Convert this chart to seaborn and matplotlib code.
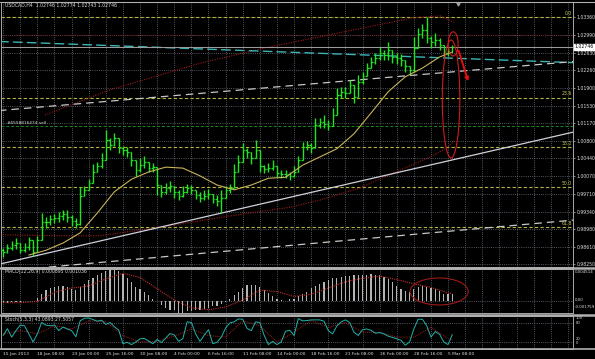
import numpy as np
import pandas as pd
import matplotlib
matplotlib.use("Agg")
import matplotlib.pyplot as plt
from matplotlib.lines import Line2D
from matplotlib.patches import Ellipse, FancyArrowPatch
import seaborn as sns

# ---------------- data ----------------
title_text = "USDCAD,H4  1.02746 1.02774 1.02743 1.02746"
macd_text = "MACD(12,26,9) 0.000895 0.001036"
stoch_text = "Stoch(5,3,3) 43.0893 27.5057"
order_text = "#6558816474 sell"

first_open = 0.9854
closes = [0.9850, 0.9859, 0.9865, 0.9869, 0.9854, 0.9861, 0.9875, 0.9850, 0.9875, 0.9912,
          0.9912, 0.9919, 0.9921, 0.9925, 0.9929, 0.9923, 0.9915, 0.9908, 0.9966, 0.9979,
          0.9993, 1.0016, 1.0028, 1.0041, 1.0082, 1.0072, 1.0086, 1.0066, 1.0062, 1.0057,
          1.0041, 1.0020, 1.0030, 1.0036, 1.0024, 1.0026, 0.9989, 0.9975, 0.9983, 0.9987,
          0.9975, 0.9966, 0.9975, 0.9983, 0.9979, 0.9968, 0.9962, 0.9966, 0.9970, 0.9960,
          0.9956, 0.9962, 0.9979, 0.9983, 1.0016, 1.0036, 1.0062, 1.0057, 1.0045, 1.0062,
          1.0028, 1.0022, 1.0024, 1.0028, 1.0014, 1.0012, 1.0012, 1.0008, 1.0016, 1.0041,
          1.0068, 1.0072, 1.0066, 1.0113, 1.0119, 1.0115, 1.0111, 1.0134, 1.0175, 1.0181,
          1.0179, 1.0196, 1.0171, 1.0202, 1.0215, 1.0231, 1.0244, 1.0252, 1.0262, 1.0258,
          1.0268, 1.0254, 1.0252, 1.0248, 1.0235, 1.0227, 1.0272, 1.0301, 1.0310, 1.0293,
          1.0285, 1.0289, 1.0279, 1.0262, 1.0264, 1.0275]
highs = [0.9859, 0.9867, 0.9873, 0.9879, 0.9865, 0.9869, 0.9881, 0.9859, 0.9883, 0.9931,
         0.9923, 0.9927, 0.9929, 0.9933, 0.9937, 0.9937, 0.9927, 0.9921, 0.9985, 0.9987,
         1.0001, 1.0032, 1.0036, 1.0055, 1.0103, 1.0086, 1.0097, 1.0078, 1.0070, 1.0068,
         1.0053, 1.0041, 1.0045, 1.0049, 1.0034, 1.0034, 1.0020, 0.9987, 0.9993, 0.9997,
         0.9985, 0.9979, 0.9987, 0.9991, 0.9989, 0.9979, 0.9975, 0.9979, 0.9981, 0.9970,
         0.9968, 0.9979, 0.9987, 0.9991, 1.0032, 1.0051, 1.0076, 1.0066, 1.0055, 1.0082,
         1.0051, 1.0030, 1.0034, 1.0041, 1.0024, 1.0020, 1.0020, 1.0016, 1.0028, 1.0049,
         1.0078, 1.0080, 1.0076, 1.0128, 1.0128, 1.0134, 1.0124, 1.0148, 1.0190, 1.0192,
         1.0192, 1.0206, 1.0190, 1.0217, 1.0223, 1.0241, 1.0254, 1.0262, 1.0275, 1.0268,
         1.0285, 1.0262, 1.0262, 1.0260, 1.0248, 1.0235, 1.0295, 1.0314, 1.0322, 1.0337,
         1.0297, 1.0304, 1.0293, 1.0275, 1.0272, 1.0279]
lows = [0.9840, 0.9848, 0.9854, 0.9856, 0.9848, 0.9850, 0.9854, 0.9842, 0.9850, 0.9879,
        0.9900, 0.9906, 0.9910, 0.9912, 0.9917, 0.9912, 0.9904, 0.9900, 0.9906, 0.9966,
        0.9981, 0.9999, 1.0016, 1.0024, 1.0041, 1.0062, 1.0070, 1.0055, 1.0051, 1.0047,
        1.0028, 1.0008, 1.0016, 1.0024, 1.0016, 1.0016, 0.9968, 0.9964, 0.9970, 0.9975,
        0.9962, 0.9958, 0.9964, 0.9972, 0.9970, 0.9960, 0.9954, 0.9958, 0.9960, 0.9952,
        0.9946, 0.9931, 0.9970, 0.9972, 0.9999, 1.0024, 1.0047, 1.0045, 1.0032, 1.0045,
        1.0016, 1.0014, 1.0016, 1.0020, 1.0005, 1.0003, 1.0003, 0.9999, 1.0005, 1.0024,
        1.0057, 1.0062, 1.0055, 1.0099, 1.0107, 1.0107, 1.0103, 1.0119, 1.0161, 1.0169,
        1.0169, 1.0186, 1.0159, 1.0186, 1.0198, 1.0217, 1.0233, 1.0239, 1.0248, 1.0248,
        1.0248, 1.0241, 1.0239, 1.0235, 1.0223, 1.0217, 1.0223, 1.0289, 1.0293, 1.0283,
        1.0272, 1.0277, 1.0268, 1.0254, 1.0256, 1.0266]

# moving average, read every 4th bar (plus the last bar)
ma_values = [0.9844, 0.9854, 0.9869, 0.9890, 0.9931, 0.9975, 1.0001, 1.0016, 1.0026, 1.0024,
             1.0008, 0.9989, 0.9979, 0.9989, 1.0003, 1.0005, 1.0030, 1.0047, 1.0064, 1.0095,
             1.0138, 1.0182, 1.0213, 1.0231, 1.0254, 1.0264]

macd_hist = [-0.0003, -0.0003, -0.0002, -0.0002, -0.0002, -0.0001, -0.0001, 0.0000, 0.0004, 0.0010,
             0.0015, 0.0018, 0.0020, 0.0021, 0.0021, 0.0019, 0.0017, 0.0015, 0.0019, 0.0024,
             0.0029, 0.0033, 0.0037, 0.0040, 0.0043, 0.0045, 0.0044, 0.0042, 0.0038, 0.0033,
             0.0027, 0.0020, 0.0016, 0.0012, 0.0008, 0.0003, -0.0001, -0.0006, -0.0010, -0.0013,
             -0.0014, -0.0017, -0.0017, -0.0015, -0.0015, -0.0014, -0.0013, -0.0012, -0.0010, -0.0008,
             -0.0007, -0.0005, -0.0002, 0.0002, 0.0008, 0.0013, 0.0018, 0.0022, 0.0023, 0.0022,
             0.0019, 0.0015, 0.0011, 0.0007, 0.0003, 0.0001, 0.0000, 0.0002, 0.0003, 0.0006,
             0.0010, 0.0012, 0.0018, 0.0021, 0.0024, 0.0027, 0.0030, 0.0032, 0.0033, 0.0034,
             0.0035, 0.0035, 0.0036, 0.0036, 0.0037, 0.0037, 0.0038, 0.0037, 0.0036, 0.0034,
             0.0031, 0.0027, 0.0021, 0.0017, 0.0014, 0.0013, 0.0017, 0.0020, 0.0021, 0.0020,
             0.0018, 0.0017, 0.0014, 0.0010, 0.0009, 0.0009]
# signal lines, read every 4th bar (plus the last bar)
macd_signal = [-0.0003, -0.0003, -0.0001, 0.0012, 0.0018, 0.0021, 0.0031, 0.0039, 0.0033, 0.0017,
               0.0001, -0.0010, -0.0013, -0.0009, 0.0001, 0.0015, 0.0013, 0.0006, 0.0009, 0.0018,
               0.0027, 0.0032, 0.0035, 0.0030, 0.0024, 0.0019, 0.0011, 0.0010]

stoch_main = [40, 61, 35, 55, 72, 70, 45, 20, 45, 80,
              72, 70, 72, 55, 66, 60, 55, 36, 85, 93,
              94, 89, 84, 87, 74, 80, 67, 57, 15, 19,
              12, 20, 30, 31, 23, 15, 28, 18, 32, 46,
              42, 22, 30, 82, 80, 45, 22, 41, 58, 15,
              19, 35, 63, 79, 82, 91, 90, 62, 55, 82,
              80, 41, 12, 22, 12, 20, 53, 56, 40, 92,
              85, 86, 88, 88, 88, 84, 55, 45, 69, 82,
              88, 80, 50, 40, 58, 60, 56, 47, 49, 45,
              38, 34, 30, 25, 10, 20, 60, 90, 90, 70,
              35, 52, 44, 20, 12, 43.09]
stoch_signal = [45, 55, 45, 70, 60, 85, 82, 40, 20, 22, 38, 60, 40, 35, 85, 70, 20, 50, 86, 65,
                80, 50, 50, 35, 35, 65, 30, 27.5]

date_labels = ["15 Jan 2013", "18 Jan 08:00", "23 Jan 00:00", "25 Jan 16:00", "30 Jan 08:00",
               "4 Feb 00:00", "6 Feb 16:00", "11 Feb 08:00", "14 Feb 00:00", "18 Feb 16:00",
               "21 Feb 08:00", "26 Feb 00:00", "28 Feb 16:00", "5 Mar 08:00"]
price_labels = [1.03360, 1.02990, 1.02630, 1.02260, 1.01900, 1.01530, 1.01170, 1.00800,
                1.00440, 1.00070, 0.99710, 0.99340, 0.98980, 0.98610, 0.98250]
macd_range = (-0.001759, 0.004514)
macd_labels = ["0.004514", "0.00", "-0.001759"]
stoch_labels = ["100", "80", "20", "0"]
stoch_levels = [20, 80]

fib_high = 1.0336
fib_low = 0.9633
fib_ratios = [0.0, 23.6, 38.2, 50.0, 61.8]

bid_price = 1.02746
order_price = 1.0111
stop_price = 1.0299

trend_span = [-1, 134]
trend_teal = [1.0286, 1.0242]
channel_upper = [1.0143, 1.0245]
channel_lower = [0.9810, 0.9917]
support_line = [0.9825, 1.0100]

ellipse_top_idx = [9.8, 25.0, 46.0, 62.4, 76.4, 95.8, 102.1, 105.4]
ellipse_top_price = [1.0134, 1.0186, 1.0241, 1.0275, 1.0300, 1.0335, 1.0339, 1.0326]
ellipse_bot_idx = [-0.7, 13.3, 22.6, 38.3, 53.0, 67.1, 74.1, 83.4, 92.8, 99.8, 103.8, 105.6]
ellipse_bot_price = [0.9886, 0.9884, 0.9884, 0.9904, 0.9925, 0.9943, 0.9958, 0.9983, 1.0020,
                     1.0047, 1.0066, 1.0082]

# ---------------- style ----------------
sns.set_theme(style="dark", rc={"axes.facecolor": "black", "figure.facecolor": "black",
                                "axes.edgecolor": "#a0a0a0", "text.color": "#d8d8d8"})
plt.rcParams['font.family'] = ['DejaVu Sans']

W, H = 595, 359
FS = 3.3
GREEN = "#1ee61e"
GRIDC = "#6a7280"
GRIDLS = (0, (1, 1.6))
LBL = "#dcdcdc"


def box(x0, y0, x1, y1):
    return [x0 / W, 1 - y1 / H, (x1 - x0) / W, (y1 - y0) / H]


fig = plt.figure(figsize=(W / 100, H / 100), dpi=100, facecolor="black")
ax = fig.add_axes(box(1, 2, 573, 266.5))
axm = fig.add_axes(box(1, 269, 573, 313))
axs = fig.add_axes(box(1, 316, 573, 348.5))

XL = (-0.5, 133.2)
grid_pos = np.arange(0, 134, 4)
n = len(closes)
idx = np.arange(n)
sig_idx = list(range(0, n, 4)) + [n - 1]
ma_idx = list(range(6, n, 4)) + [n - 1]

for a in (ax, axm, axs):
    a.set_facecolor("black")
    a.set_xlim(*XL)
    for s in a.spines.values():
        s.set_color("#a8a8a8")
        s.set_linewidth(0.7)
    a.grid(False)

# ---------------- main panel ----------------
ax.set_ylim(0.98204, 1.03677)
ax.set_xticks(grid_pos)
ax.tick_params(axis="x", length=0, labelbottom=False)
ax.yaxis.tick_right()
ax.set_yticks(price_labels)
ax.set_yticklabels([f"{p:.5f}" for p in price_labels])
ax.tick_params(axis="y", length=1.5, width=0.5, color="#c0c0c0", pad=1,
               labelsize=FS, labelcolor=LBL)
ax.grid(True, axis="both", color=GRIDC, linestyle=GRIDLS, linewidth=0.6)

# fibonacci levels
for r in fib_ratios:
    lvl = fib_high - r / 100.0 * (fib_high - fib_low)
    ax.axhline(lvl, color="#b4b43c", lw=0.8, dashes=(3, 2), zorder=2)
    ax.text(132.9, lvl + 0.0003, f"{r:.1f}", color="#c8c850", fontsize=FS,
            ha="right", va="bottom", zorder=6)

# order & stop lines
ax.axhline(order_price, color="#1a8a1a", lw=0.7, dashes=(3, 2), zorder=2)
ax.text(1.0, order_price + 0.0003, order_text, color=LBL, fontsize=FS - 0.2,
        ha="left", va="bottom", zorder=6)
ax.axhline(stop_price, color="#7a1010", lw=0.6, linestyle=(0, (1, 1.5)), zorder=2)

# big drawn ellipse (dark red dotted)
ax.plot(ellipse_top_idx, ellipse_top_price, color="#9b1c1c", lw=0.8,
        linestyle=(0, (1, 1.2)), zorder=3)
ax.plot(ellipse_bot_idx, ellipse_bot_price, color="#9b1c1c", lw=0.8,
        linestyle=(0, (1, 1.2)), zorder=3)

# trend lines
ax.plot(trend_span, trend_teal, color="#3cb4b4", lw=1.0, dashes=(7, 3), zorder=3)
ax.plot(trend_span, channel_upper, color="#c8c8c8", lw=0.9, dashes=(6, 4), zorder=3)
ax.plot(trend_span, channel_lower, color="#c8c8c8", lw=0.9, dashes=(6, 4), zorder=3)
ax.plot(trend_span, support_line, color="#d0d0dc", lw=0.9, zorder=3)

# bid line
ax.axhline(bid_price, color="#a0a0a0", lw=0.7, zorder=3)

# OHLC bars
opens = np.r_[first_open, closes[:-1]]
c = np.array(closes)
hi = np.maximum.reduce([np.array(highs), opens, c])
lo = np.minimum.reduce([np.array(lows), opens, c])
ax.vlines(idx, lo, hi, color=GREEN, lw=1.0, zorder=4)
ax.hlines(opens, idx - 0.4, idx, color=GREEN, lw=0.9, zorder=4)
ax.hlines(c, idx, idx + 0.4, color=GREEN, lw=0.9, zorder=4)

# moving average
sns.lineplot(x=ma_idx, y=ma_values, ax=ax, color="#c8b45a", lw=0.8, sort=False,
             zorder=5, legend=False)

# highlighted ellipses and arrow
ax.add_patch(Ellipse((104.7, 1.0167), 4.1, 0.0244, fill=False, ec="#d01c1c", lw=0.8, zorder=6))
ax.add_patch(Ellipse((105.2, 1.0281), 2.3, 0.0050, fill=False, ec="#d01c1c", lw=0.8, zorder=6))
ax.add_patch(FancyArrowPatch((106.3, 1.0272), (108.9, 1.0198), arrowstyle="-|>",
                             mutation_scale=5, color="#e01010", lw=1.4, zorder=7))

ax.plot([106.3], [1.0364], marker="v", ms=2.2, color="#a0a0a0", clip_on=False, zorder=7)

ax.text(0.5, 1.0361, title_text, color=LBL, fontsize=FS, ha="left", va="center", zorder=7)
ax.text(1.003, bid_price, f"{bid_price:.5f}", transform=ax.get_yaxis_transform(),
        ha="left", va="center", fontsize=FS, color="black", clip_on=False, zorder=8,
        bbox=dict(facecolor="white", edgecolor="white", pad=0.5))
ax.set_xlabel("")
ax.set_ylabel("")

# ---------------- MACD panel ----------------
axm.set_ylim(*macd_range)
axm.set_xticks(grid_pos)
axm.tick_params(axis="x", length=0, labelbottom=False)
axm.set_yticks([0.0])
axm.tick_params(axis="y", length=0, labelleft=False, labelright=False)
axm.grid(True, axis="both", color=GRIDC, linestyle=GRIDLS, linewidth=0.6)
axm.bar(idx, macd_hist, width=0.28, color="#b4b4b4", linewidth=0, zorder=3)
axm.plot(sig_idx, macd_signal, color="#c83030", lw=0.8, linestyle=(0, (1, 1)), zorder=4)
axm.add_patch(Ellipse((101.9, 0.00131), 13.6, 0.00385, fill=False, ec="#a01818",
                      lw=0.8, zorder=5))
axm.text(0.5, 0.0041, macd_text, color=LBL, fontsize=FS, ha="left", va="center", zorder=6)
for lab, ypx in zip(macd_labels, [271.8, 300.2, 306.5]):
    fig.text(574.5 / W, 1 - ypx / H, lab, fontsize=FS - 0.4, color=LBL, ha="left", va="center")

# ---------------- Stochastic panel ----------------
axs.set_ylim(0, 100)
axs.set_xticks(idx[::8])
axs.set_xticklabels(date_labels)
for t in axs.get_xticklabels():
    t.set_horizontalalignment("left")
axs.set_xticks(grid_pos, minor=True)
axs.tick_params(axis="x", which="major", length=1.5, width=0.5, color="#c0c0c0", pad=1,
                labelsize=FS - 0.1, labelcolor=LBL)
axs.tick_params(axis="x", which="minor", length=0)
axs.set_yticks(stoch_levels)
axs.tick_params(axis="y", length=0, labelleft=False, labelright=False)
axs.grid(True, axis="y", color=GRIDC, linestyle=GRIDLS, linewidth=0.6)
axs.grid(True, axis="x", which="minor", color=GRIDC, linestyle=GRIDLS, linewidth=0.6)
sns.lineplot(x=idx, y=stoch_main, ax=axs, color="#20b2aa", lw=0.7, sort=False,
             zorder=4, legend=False)
axs.plot(sig_idx, stoch_signal, color="#a02020", lw=0.7, linestyle=(0, (1, 1)), zorder=3)
axs.text(0.5, 88, stoch_text, color=LBL, fontsize=FS, ha="left", va="center", zorder=6)
axs.set_xlabel("")
axs.set_ylabel("")
for lab, ypx in zip(stoch_labels, [318.2, 322.6, 338.7, 343.3]):
    fig.text(575.5 / W, 1 - ypx / H, lab, fontsize=FS - 0.6, color=LBL, ha="left", va="center")

# panel separators
for ypx, lw in [(1.5, 0.8), (267.8, 1.8), (314.6, 1.8), (349.2, 1.2)]:
    fig.add_artist(Line2D([0, 1], [1 - ypx / H] * 2, transform=fig.transFigure,
                          color="#b0b0b0", lw=lw))

fig.savefig("out.png", dpi=100, facecolor="black")
